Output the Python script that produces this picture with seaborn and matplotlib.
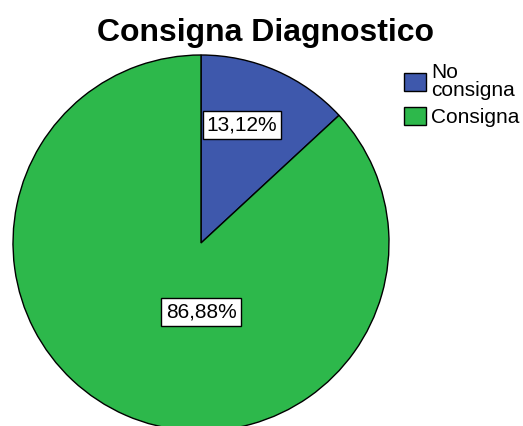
import matplotlib
matplotlib.use("Agg")
import matplotlib.pyplot as plt
import seaborn as sns

sns.set_theme(style="white")
plt.rcParams["font.family"] = ["Liberation Sans", "DejaVu Sans"]
plt.rcParams["text.color"] = "black"

# data
categories = ["No\nconsigna", "Consigna"]
percentages = [13.12, 86.88]
colors = ["#3E58AC", "#2DB84B"]

fig = plt.figure(figsize=(5.23, 4.26), dpi=100)
ax = fig.add_axes([13 / 523, (426 - 243 - 188) / 426, 376 / 523, 376 / 426])

wedges, _ = ax.pie(percentages, colors=colors, startangle=90, counterclock=False,
                   radius=1, wedgeprops=dict(edgecolor="black", linewidth=1))
ax.set_xlim(-1, 1)
ax.set_ylim(-1, 1)
ax.set_aspect("equal")

# percentage labels (SPSS style boxes)
label_pos = [(0.218, 0.628), (0.0, -0.367)]
for (x, y), p in zip(label_pos, percentages):
    ax.text(x, y, f"{p:.2f}%".replace(".", ","), ha="center", va="center",
            fontsize=15, color="black",
            bbox=dict(boxstyle="square,pad=0.2", facecolor="white",
                      edgecolor="black", linewidth=1))

fig.text(0.508, 1 - 41 / 426, "Consigna Diagnostico", ha="center", va="baseline",
         fontsize=23, fontweight="bold", color="black")

fig.legend(wedges, categories, loc="upper left",
           bbox_to_anchor=(400 / 523, 1 - 59 / 426), frameon=False,
           fontsize=15, handlelength=1.05, handleheight=1.0,
           handletextpad=0.25, labelspacing=0.3, borderpad=0.2,
           borderaxespad=0, labelcolor="black")
for t in fig.legends[0].get_texts():
    t.set_linespacing(0.95)

fig.savefig("out.png", dpi=100)
